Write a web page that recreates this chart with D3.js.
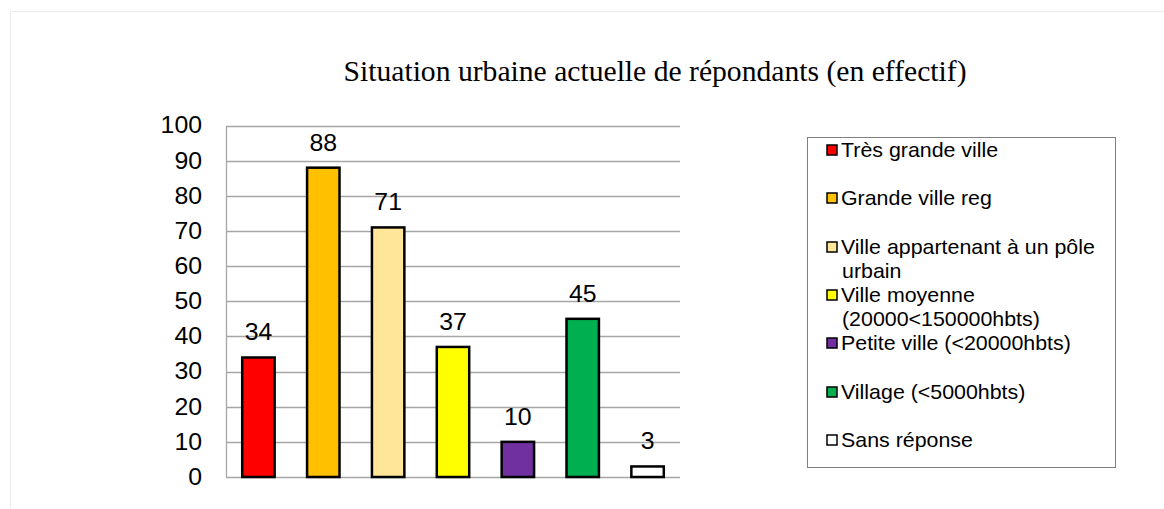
<!DOCTYPE html>
<html><head><meta charset="utf-8">
<script src="https://cdn.jsdelivr.net/npm/d3@7"></script>
<style>body{margin:0;background:#fff}svg{display:block}</style>
</head><body>
<svg id="c" width="1164" height="509"></svg>
<script>
const categories = ["Très grande ville","Grande ville reg","Ville appartenant à un pôle urbain","Ville moyenne (20000<150000hbts)","Petite ville (<20000hbts)","Village (<5000hbts)","Sans réponse"];
const values = [34, 88, 71, 37, 10, 45, 3];
const colors = ["#FF0000","#FFC000","#FFE699","#FFFF00","#7030A0","#00B050","#FFFFFF"];
const legendLines = [["Très grande ville"],["Grande ville reg"],["Ville appartenant à un pôle","urbain"],["Ville moyenne","(20000<150000hbts)"],["Petite ville (<20000hbts)"],["Village (<5000hbts)"],["Sans réponse"]];
const yTicks = [0,10,20,30,40,50,60,70,80,90,100];
const title = "Situation urbaine actuelle de répondants (en effectif)";

const SX = 1.08; // horizontal stretch of the original rendering
const sans = "'Liberation Sans',Arial,sans-serif";
const svg = d3.select("#c");
svg.append("rect").attr("x",10.5).attr("y",11.5).attr("width",1200).attr("height",600)
  .attr("fill","none").attr("stroke","#ececec");

svg.append("text").attr("transform","translate(655,81) scale(1.04,1)").attr("text-anchor","middle")
  .attr("font-family","'Liberation Serif','Times New Roman',serif").attr("font-size",28.5)
  .attr("fill","#000").text(title);

const x0 = 226, x1 = 680, yTop = 125.5, yBot = 477;
const x = d3.scaleBand().domain(categories).range([x0,x1]).paddingInner(0.5).paddingOuter(0.25);
const y = d3.scaleLinear().domain([0,100]).range([yBot,yTop]);

const g = svg.append("g");
g.selectAll("line.grid").data(yTicks).join("line")
  .attr("x1",x0).attr("x2",x1).attr("y1",d=>Math.round(y(d))+0.5).attr("y2",d=>Math.round(y(d))+0.5)
  .attr("stroke","#a6a6a6").attr("stroke-width",1.3);
const ax = g.append("g").attr("transform",`translate(${x0},0)`)
  .call(d3.axisLeft(y).tickValues(yTicks).tickSize(0).tickPadding(24).tickFormat(d3.format("d")));
ax.select(".domain").attr("stroke","#a6a6a6").attr("stroke-width",1.3);
ax.selectAll("text").attr("font-family",sans).attr("font-size",23).attr("fill","#000")
  .attr("x",-24/SX).attr("transform",`scale(${SX},1)`);

g.selectAll("rect.bar").data(values).join("rect")
  .attr("x",(d,i)=>x(categories[i])).attr("width",x.bandwidth())
  .attr("y",d=>y(d)).attr("height",d=>yBot-y(d))
  .attr("fill",(d,i)=>colors[i]).attr("stroke","#000").attr("stroke-width",2.5);
g.selectAll("text.lbl").data(values).join("text")
  .attr("transform",(d,i)=>`translate(${x(categories[i])+x.bandwidth()/2},${y(d)-17}) scale(${SX},1)`)
  .attr("text-anchor","middle").attr("font-family",sans)
  .attr("font-size",23).attr("fill","#000").text(d=>d);

svg.append("rect").attr("x",807.5).attr("y",137.5).attr("width",308).attr("height",330)
  .attr("fill","#fff").attr("stroke","#808080").attr("stroke-width",1);
const centers = [150,198,247,295,343,392,440];
const lg = svg.append("g");
legendLines.forEach((lines,i)=>{
  const cy = centers[i];
  lg.append("rect").attr("x",827).attr("y",cy-5).attr("width",10).attr("height",10)
    .attr("fill",colors[i]).attr("stroke","#000").attr("stroke-width",1.5);
  lines.forEach((l,j)=>{
    lg.append("text").attr("transform",`translate(${j===0?841:842},${cy+7+j*24}) scale(${SX},1)`)
      .attr("font-family",sans).attr("font-size",19.8).attr("fill","#000").text(l);
  });
});
</script>
</body></html>
